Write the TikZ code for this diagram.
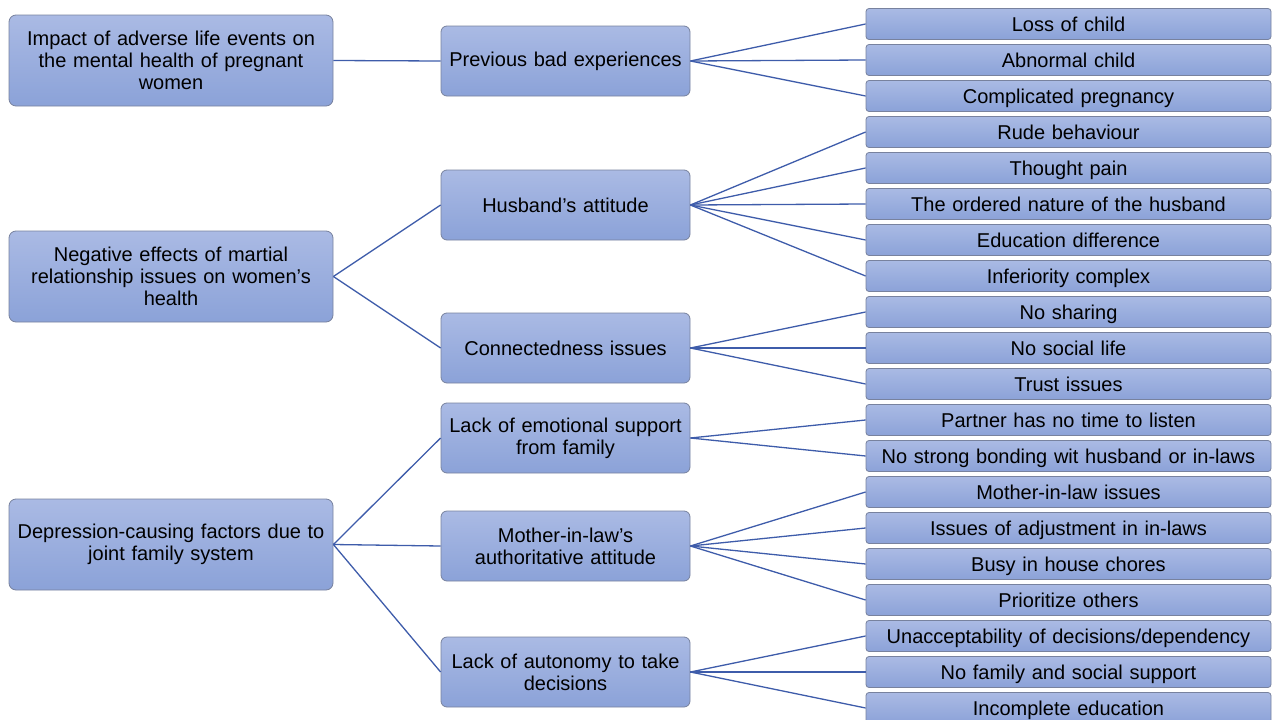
\documentclass[tikz,border=0pt]{standalone}
\usepackage{fontspec}
\setmainfont{Liberation Sans}
\definecolor{boxtop}{RGB}{170,186,228}
\definecolor{boxbot}{RGB}{139,162,216}
\definecolor{boxedge}{RGB}{120,130,158}
\definecolor{link}{RGB}{62,92,170}
\begin{document}
\begin{tikzpicture}[x=1pt,y=-1pt,
 base/.style={draw=boxedge, line width=0.8pt, top color=boxtop, bottom color=boxbot, inner sep=0pt, align=center, font=\fontsize{20}{22}\selectfont},
 lone/.style={base, rounded corners=7pt, minimum width=324pt, minimum height=91pt, text width=310pt},
 ltwo/.style={base, rounded corners=6pt, minimum width=249pt, minimum height=70pt, text width=240pt},
 lthree/.style={base, rounded corners=3pt, minimum width=405pt, minimum height=31pt, text width=400pt, text height=16.5pt, text depth=2.5pt},
 conn/.style={draw=link, line width=1.3pt}]
\useasboundingbox (0,0) rectangle (1272,720);
% level 1
\node[lone] (a1) at (171,60.5) {Impact of adverse life events on\\the mental health of pregnant\\women};
\node[lone] (a2) at (171,276.5) {Negative effects of martial\\relationship issues on women's\\health};
\node[lone] (a3) at (171,544.5) {Depression-causing factors due to\\joint family system};
% level 2
\node[ltwo] (b1) at (565.5,61) {Previous bad experiences};
\node[ltwo] (b2) at (565.5,205) {Husband's attitude};
\node[ltwo] (b3) at (565.5,348) {Connectedness issues};
\node[ltwo] (b4) at (565.5,438) {Lack of emotional support\\from family};
\node[ltwo] (b5) at (565.5,546) {Mother-in-law's\\authoritative attitude};
\node[ltwo] (b6) at (565.5,672) {Lack of autonomy to take\\decisions};
% level 3
\node[lthree] (c1) at (1068.5,24) {Loss of child};
\node[lthree] (c2) at (1068.5,60) {Abnormal child};
\node[lthree] (c3) at (1068.5,96) {Complicated pregnancy};
\node[lthree] (c4) at (1068.5,132) {Rude behaviour};
\node[lthree] (c5) at (1068.5,168) {Thought pain};
\node[lthree] (c6) at (1068.5,204) {The ordered nature of the husband};
\node[lthree] (c7) at (1068.5,240) {Education difference};
\node[lthree] (c8) at (1068.5,276) {Inferiority complex};
\node[lthree] (c9) at (1068.5,312) {No sharing};
\node[lthree] (c10) at (1068.5,348) {No social life};
\node[lthree] (c11) at (1068.5,384) {Trust issues};
\node[lthree] (c12) at (1068.5,420) {Partner has no time to listen};
\node[lthree] (c13) at (1068.5,456) {No strong bonding wit husband or in-laws};
\node[lthree] (c14) at (1068.5,492) {Mother-in-law issues};
\node[lthree] (c15) at (1068.5,528) {Issues of adjustment in in-laws};
\node[lthree] (c16) at (1068.5,564) {Busy in house chores};
\node[lthree] (c17) at (1068.5,600) {Prioritize others};
\node[lthree] (c18) at (1068.5,636) {Unacceptability of decisions/dependency};
\node[lthree] (c19) at (1068.5,672) {No family and social support};
\node[lthree] (c20) at (1068.5,708) {Incomplete education};
% connectors
\draw[conn] (a1.east) -- (b1.west);
\draw[conn] (a2.east) -- (b2.west);
\draw[conn] (a2.east) -- (b3.west);
\draw[conn] (a3.east) -- (b4.west);
\draw[conn] (a3.east) -- (b5.west);
\draw[conn] (a3.east) -- (b6.west);
\foreach \i in {1,2,3} \draw[conn] (b1.east) -- (c\i.west);
\foreach \i in {4,5,6,7,8} \draw[conn] (b2.east) -- (c\i.west);
\foreach \i in {9,10,11} \draw[conn] (b3.east) -- (c\i.west);
\foreach \i in {12,13} \draw[conn] (b4.east) -- (c\i.west);
\foreach \i in {14,15,16,17} \draw[conn] (b5.east) -- (c\i.west);
\foreach \i in {18,19,20} \draw[conn] (b6.east) -- (c\i.west);
\end{tikzpicture}
\end{document}
